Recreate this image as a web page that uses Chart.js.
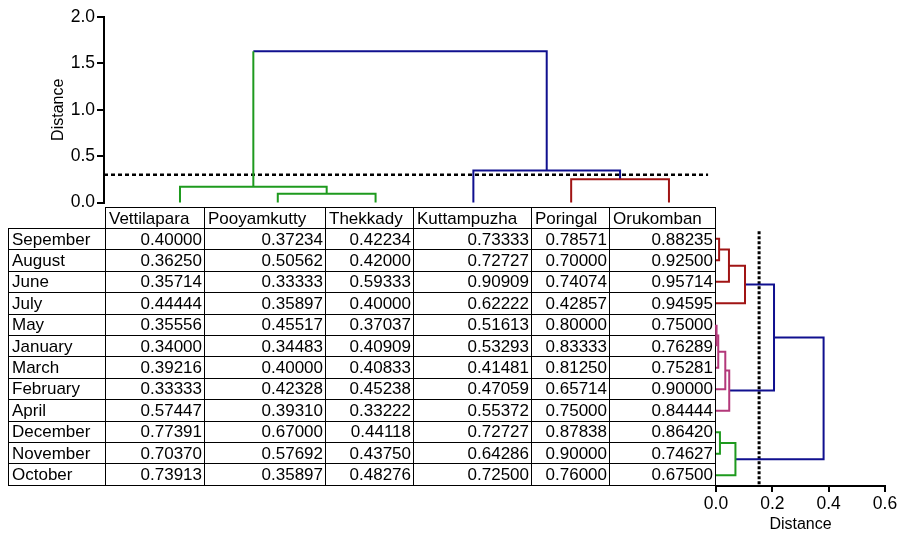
<!DOCTYPE html>
<html>
<head>
<meta charset="utf-8">
<script src="https://cdn.jsdelivr.net/npm/chart.js@4"></script>
<style>
  body { margin: 0; background: #fff; width: 907px; height: 534px; position: relative; overflow: hidden; font-family: "Liberation Sans", Arial, sans-serif; }
  #topBox { position: absolute; left: 0; top: 0; width: 907px; height: 215px; }
  #sideBox { position: absolute; left: 700px; top: 215px; width: 207px; height: 319px; }
  #tbl { position: absolute; left: 8px; top: 207px; border-collapse: collapse; table-layout: fixed; width: 707px; font-size: 17px; color: #000; }
  #tbl td { border: 1.5px solid #000; padding: 0 2px 0 3px; white-space: nowrap; overflow: hidden; line-height: 1; }
  #tbl td.num { text-align: right; }
  #tbl td.corner { border: none; }
  #tbl tr.head { height: 21px; }
  #tbl tr.row { height: 21.4px; }
</style>
</head>
<body>
<div id="topBox"><canvas id="topChart"></canvas></div>
<table id="tbl"></table>
<div id="sideBox"><canvas id="sideChart"></canvas></div>
<script>
'use strict';

// sites (columns) and months (rows) as they appear in the table
let sites = ['Vettilapara', 'Pooyamkutty', 'Thekkady', 'Kuttampuzha', 'Poringal', 'Orukomban'];
let months = ['Sepember', 'August', 'June', 'July', 'May', 'January', 'March', 'February', 'April', 'December', 'November', 'October'];

let vettilapara = ['0.40000', '0.36250', '0.35714', '0.44444', '0.35556', '0.34000', '0.39216', '0.33333', '0.57447', '0.77391', '0.70370', '0.73913'];
let pooyamkutty = ['0.37234', '0.50562', '0.33333', '0.35897', '0.45517', '0.34483', '0.40000', '0.42328', '0.39310', '0.67000', '0.57692', '0.35897'];
let thekkady = ['0.42234', '0.42000', '0.59333', '0.40000', '0.37037', '0.40909', '0.40833', '0.45238', '0.33222', '0.44118', '0.43750', '0.48276'];
let kuttampuzha = ['0.73333', '0.72727', '0.90909', '0.62222', '0.51613', '0.53293', '0.41481', '0.47059', '0.55372', '0.72727', '0.64286', '0.72500'];
let poringal = ['0.78571', '0.70000', '0.74074', '0.42857', '0.80000', '0.83333', '0.81250', '0.65714', '0.75000', '0.87838', '0.90000', '0.76000'];
let orukomban = ['0.88235', '0.92500', '0.95714', '0.94595', '0.75000', '0.76289', '0.75281', '0.90000', '0.84444', '0.86420', '0.74627', '0.67500'];

// site clustering (top): merges reference leaf index, or leafCount + merge index
let siteMergeA = [1, 0, 4, 3, 7];
let siteMergeB = [2, 6, 5, 8, 9];
let siteMergeHeight = [0.094, 0.171, 0.252, 0.346, 1.63];
let siteMergeColor = ['green', 'green', 'red', 'blue', 'blue'];
let siteLegAColor = ['green', 'green', 'red', 'blue', 'green'];
let siteCut = 0.30;
let siteTicks = [0, 0.5, 1.0, 1.5, 2.0];

// month clustering (right)
let monthMergeA = [0, 12, 13, 4, 15, 16, 17, 9, 19, 14, 21];
let monthMergeB = [1, 2, 3, 5, 6, 7, 8, 10, 11, 18, 20];
let monthMergeHeight = [0.011, 0.046, 0.103, 0.003, 0.008, 0.033, 0.047, 0.014, 0.069, 0.206, 0.382];
let monthMergeColor = ['red', 'red', 'red', 'pink', 'pink', 'pink', 'pink', 'green', 'green', 'blue', 'blue'];
let monthCut = 0.153;
let monthTicks = [0, 0.2, 0.4, 0.6];

let palette = { green: '#1e9a1e', red: '#a01414', blue: '#10108f', pink: '#b3387a' };
let fontFam = '"Liberation Sans", Arial, sans-serif';

// ---- table ----
function buildTable() {
    let tbl = document.getElementById('tbl');
    let cols = [97, 99, 121, 88, 118, 78, 106];
    let cg = document.createElement('colgroup');
    cols.forEach(w => { let c = document.createElement('col'); c.style.width = w + 'px'; cg.appendChild(c); });
    tbl.appendChild(cg);

    let head = document.createElement('tr');
    head.className = 'head';
    let corner = document.createElement('td');
    corner.className = 'corner';
    head.appendChild(corner);
    sites.forEach(s => { let td = document.createElement('td'); td.textContent = s; head.appendChild(td); });
    tbl.appendChild(head);

    let colsData = [vettilapara, pooyamkutty, thekkady, kuttampuzha, poringal, orukomban];
    for (let i = 0; i < months.length; i++) {
        let tr = document.createElement('tr');
        tr.className = 'row';
        let lab = document.createElement('td');
        lab.textContent = months[i];
        tr.appendChild(lab);
        for (let j = 0; j < colsData.length; j++) {
            let td = document.createElement('td');
            td.className = 'num';
            td.textContent = colsData[j][i];
            tr.appendChild(td);
        }
        tbl.appendChild(tr);
    }
}
buildTable();

// ---- dendrogram links ----
function lineSet(pts, color, sideways) {
    return {
        data: pts.map(p => sideways ? { x: p[1], y: p[0] } : { x: p[0], y: p[1] }),
        showLine: true,
        borderColor: palette[color],
        borderWidth: 2,
        pointRadius: 0,
        tension: 0,
        clip: false
    };
}

function buildLinks(leafCount, mergeA, mergeB, heights, colors, legAColors, sideways) {
    let pos = [], hgt = [];
    for (let i = 0; i < leafCount; i++) { pos[i] = i; hgt[i] = 0; }
    let sets = [];
    for (let k = 0; k < mergeA.length; k++) {
        let a = mergeA[k], b = mergeB[k], h = heights[k];
        let legA = legAColors ? legAColors[k] : colors[k];
        if (legA === colors[k]) {
            sets.push(lineSet([[pos[a], hgt[a]], [pos[a], h], [pos[b], h], [pos[b], hgt[b]]], colors[k], sideways));
        } else {
            sets.push(lineSet([[pos[a], hgt[a]], [pos[a], h]], legA, sideways));
            sets.push(lineSet([[pos[a], h], [pos[b], h], [pos[b], hgt[b]]], colors[k], sideways));
        }
        pos[leafCount + k] = (pos[a] + pos[b]) / 2;
        hgt[leafCount + k] = h;
    }
    return sets;
}

let topXMin = -0.777, topXMax = 5.481;

let topSets = buildLinks(sites.length, siteMergeA, siteMergeB, siteMergeHeight, siteMergeColor, siteLegAColor, false);
topSets.push({
    data: [{ x: topXMin, y: siteCut }, { x: 5.4, y: siteCut }],
    showLine: true, borderColor: '#000', borderWidth: 2.5, borderDash: [4, 3],
    pointRadius: 0, clip: false
});

new Chart(document.getElementById('topChart'), {
    type: 'scatter',
    data: { datasets: topSets },
    options: {
        responsive: true,
        maintainAspectRatio: false,
        animation: false,
        layout: { padding: { left: 45, right: 191, top: 17, bottom: 10 } },
        plugins: { legend: { display: false }, tooltip: { enabled: false } },
        scales: {
            x: { type: 'linear', display: false, min: topXMin, max: topXMax },
            y: {
                type: 'linear', min: 0, max: 2,
                afterFit: s => { s.width = 59; },
                afterBuildTicks: s => { s.ticks = siteTicks.map(v => ({ value: v })); },
                border: { color: '#000', width: 2 },
                grid: { drawOnChartArea: false, drawTicks: true, tickLength: 7, color: '#000', lineWidth: 2 },
                ticks: { color: '#000', padding: 2, font: { family: fontFam, size: 17.5 }, callback: v => v.toFixed(1) },
                title: { display: true, text: 'Distance', color: '#000', font: { family: fontFam, size: 16 }, padding: { top: 4, bottom: 4 } }
            }
        }
    }
});

let sideSets = buildLinks(months.length, monthMergeA, monthMergeB, monthMergeHeight, monthMergeColor, null, true);
sideSets.push({
    data: [{ x: monthCut, y: -0.35 }, { x: monthCut, y: 11.5 }],
    showLine: true, borderColor: '#000', borderWidth: 3, borderDash: [3, 2],
    pointRadius: 0, clip: false
});

new Chart(document.getElementById('sideChart'), {
    type: 'scatter',
    data: { datasets: sideSets },
    options: {
        responsive: true,
        maintainAspectRatio: false,
        animation: false,
        layout: { padding: { left: 16, right: 22, top: 13, bottom: 0 } },
        plugins: { legend: { display: false }, tooltip: { enabled: false } },
        scales: {
            y: { type: 'linear', display: false, reverse: true, min: -0.5, max: 11.5 },
            x: {
                type: 'linear', min: 0, max: 0.6,
                afterFit: s => { s.height = 48; },
                afterBuildTicks: s => { s.ticks = monthTicks.map(v => ({ value: v })); },
                border: { color: '#000', width: 2 },
                grid: { drawOnChartArea: false, drawTicks: true, tickLength: 6, color: '#000', lineWidth: 2 },
                ticks: { color: '#000', padding: 2, maxRotation: 0, font: { family: fontFam, size: 17.5 }, callback: v => v.toFixed(1) },
                title: { display: true, text: 'Distance', color: '#000', font: { family: fontFam, size: 16 }, padding: { top: 2, bottom: 0 } }
            }
        }
    }
});
</script>
</body>
</html>
